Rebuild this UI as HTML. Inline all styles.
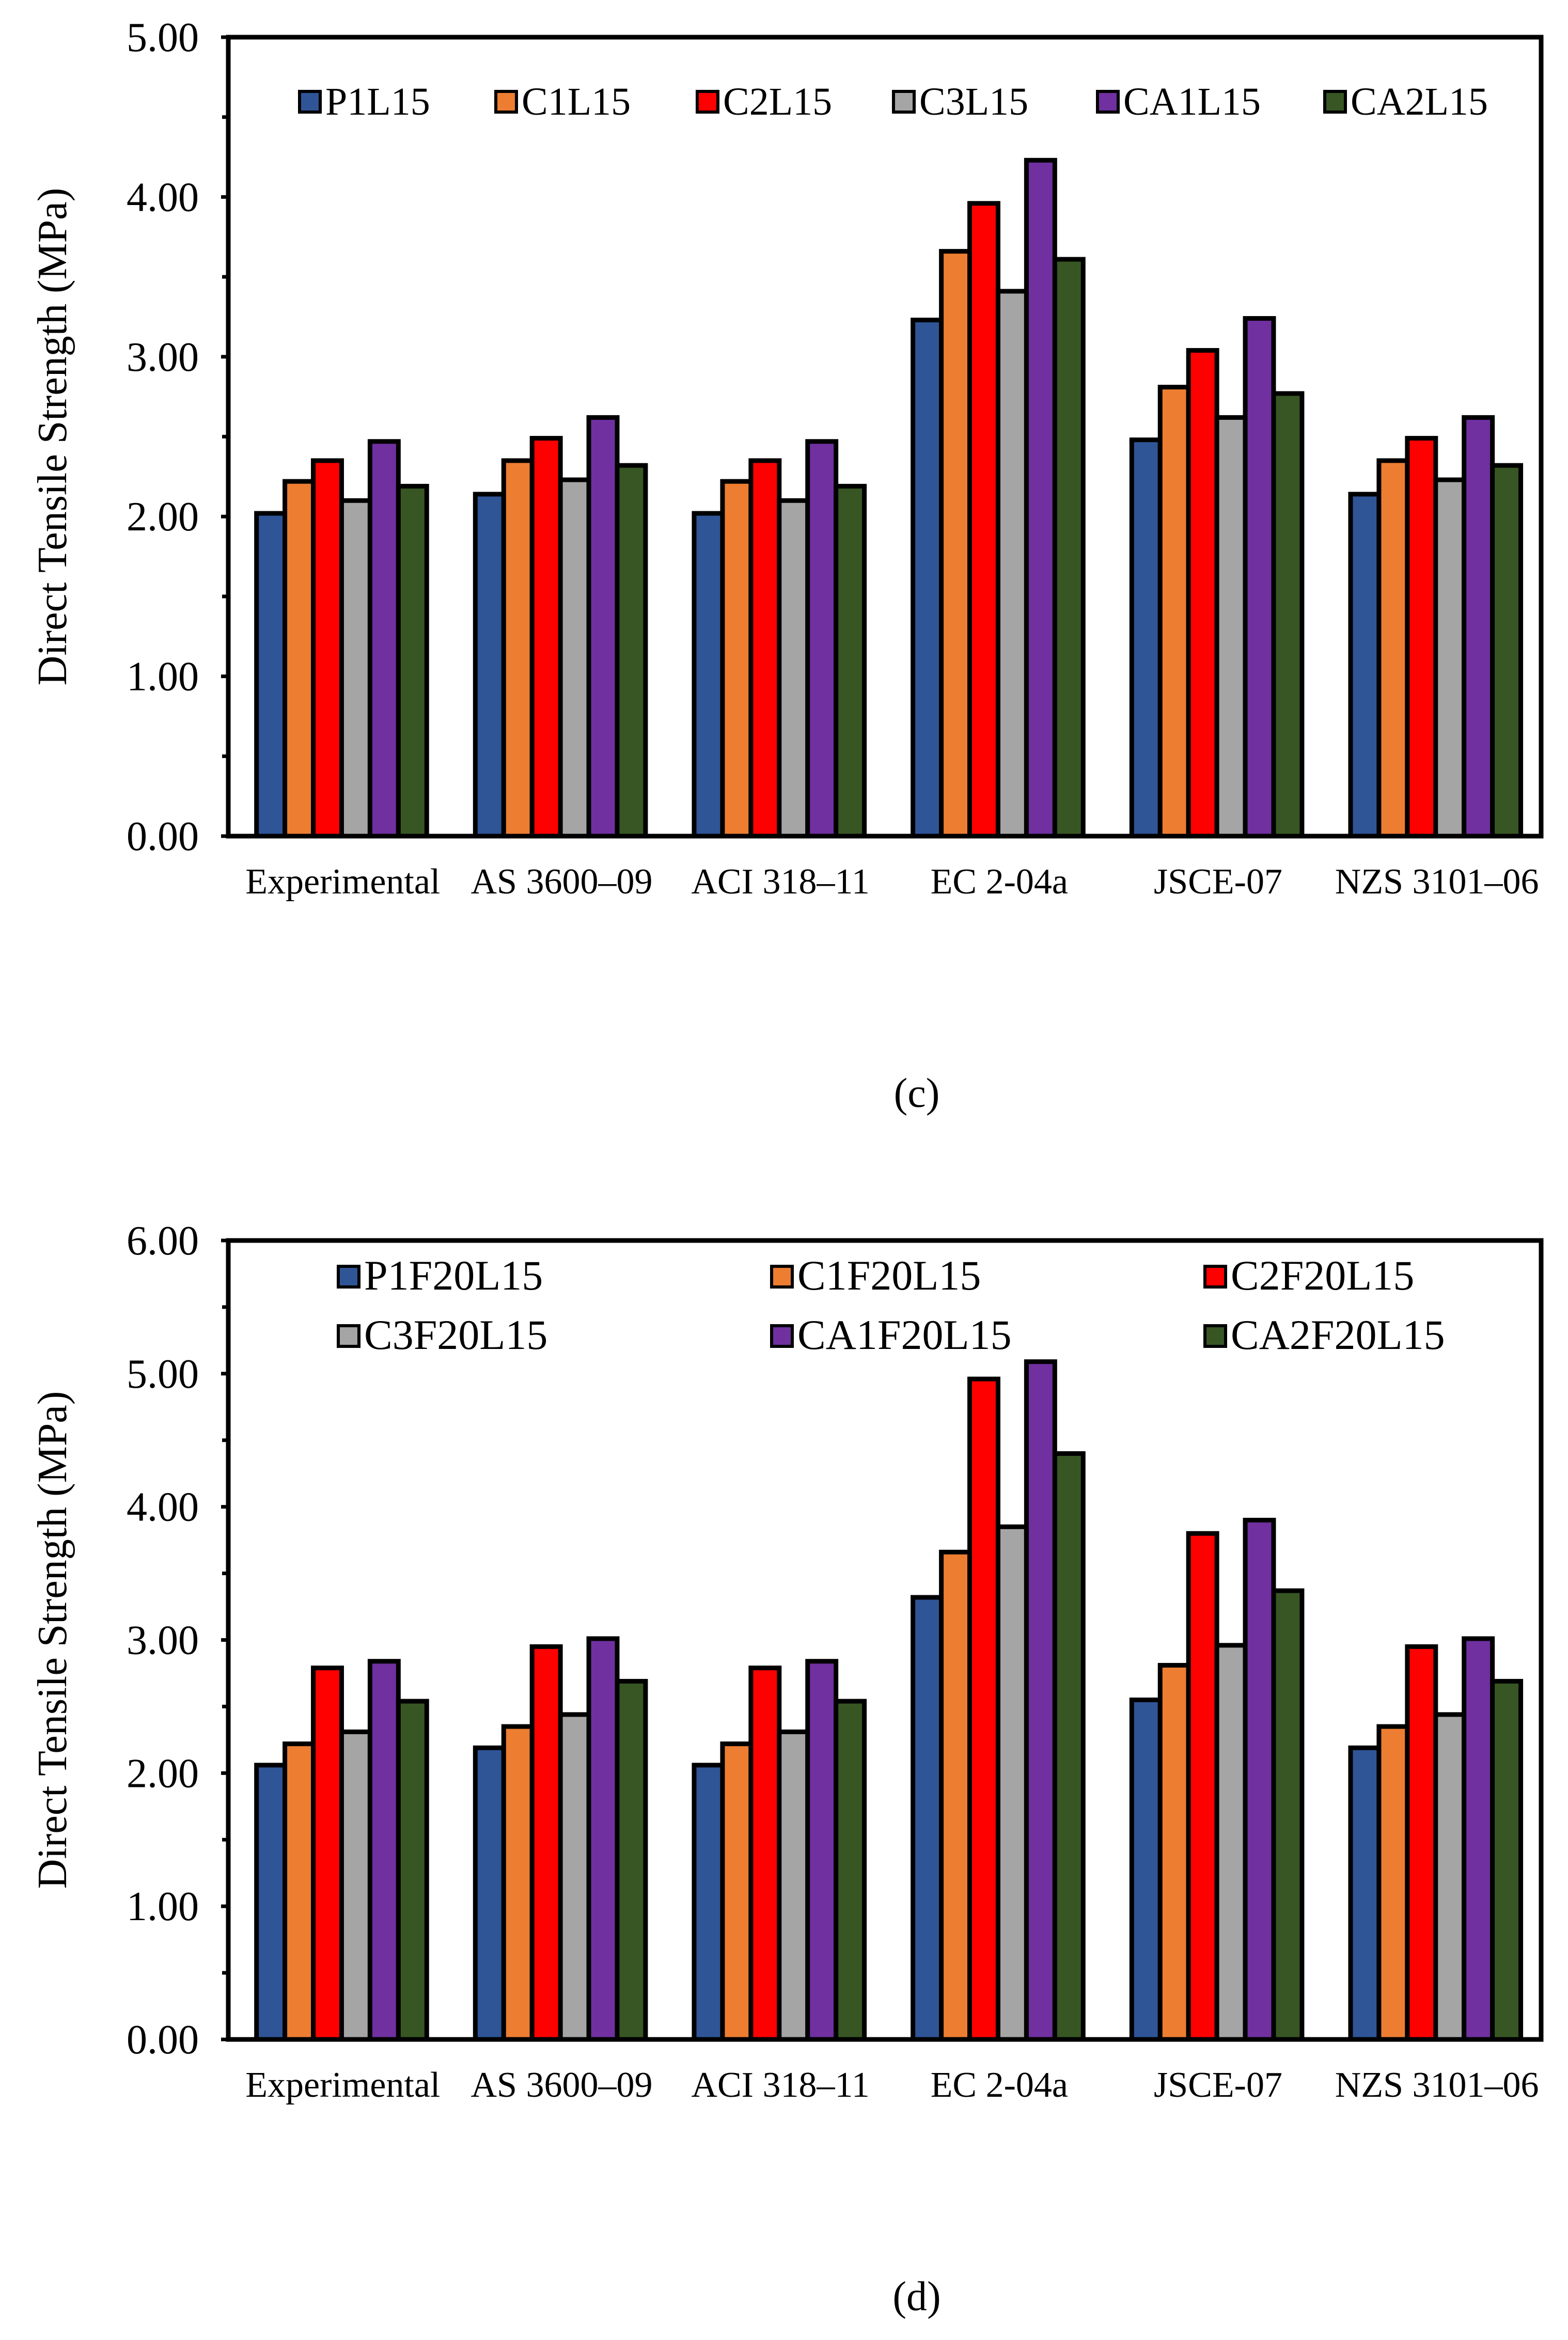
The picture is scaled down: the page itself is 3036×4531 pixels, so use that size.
<!DOCTYPE html>
<html><head><meta charset="utf-8"><style>
html,body{margin:0;padding:0;background:#fff}
svg{display:block;font-family:"Liberation Serif",serif}
</style></head><body>
<svg id="fig" width="3036" height="4531" viewBox="0 0 3036 4531" xmlns="http://www.w3.org/2000/svg"></svg>
<script>
const categories = ["Experimental","AS 3600\u201309","ACI 318\u201311","EC 2-04a","JSCE-07","NZS 3101\u201306"];
const colors = ["#2F5597","#ED7D31","#FF0000","#A5A5A5","#7030A0","#375623"];
const seriesC = ["P1L15","C1L15","C2L15","C3L15","CA1L15","CA2L15"];
const valsC_P1 = [2.02,2.14,2.02,3.23,2.48,2.14];
const valsC_C1 = [2.22,2.35,2.22,3.66,2.81,2.35];
const valsC_C2 = [2.35,2.49,2.35,3.96,3.04,2.49];
const valsC_C3 = [2.10,2.23,2.10,3.41,2.62,2.23];
const valsC_CA1 = [2.47,2.62,2.47,4.23,3.24,2.62];
const valsC_CA2 = [2.19,2.32,2.19,3.61,2.77,2.32];
const ticksC = ["0.00","1.00","2.00","3.00","4.00","5.00"];
const seriesD = ["P1F20L15","C1F20L15","C2F20L15","C3F20L15","CA1F20L15","CA2F20L15"];
const valsD_P1 = [2.06,2.19,2.06,3.32,2.55,2.19];
const valsD_C1 = [2.22,2.35,2.22,3.66,2.81,2.35];
const valsD_C2 = [2.79,2.95,2.79,4.96,3.80,2.95];
const valsD_C3 = [2.31,2.44,2.31,3.85,2.96,2.44];
const valsD_CA1 = [2.84,3.01,2.84,5.09,3.90,3.01];
const valsD_CA2 = [2.54,2.69,2.54,4.40,3.37,2.69];
const ticksD = ["0.00","1.00","2.00","3.00","4.00","5.00","6.00"];

const NS="http://www.w3.org/2000/svg";
const svg=document.getElementById('fig');
function mk(tag,attrs,parent,text){const e=document.createElementNS(NS,tag);for(const k in attrs)e.setAttribute(k,attrs[k]);if(text!==undefined)e.textContent=text;(parent||svg).appendChild(e);return e;}

function chart(cfg){
  const g=mk('g',{});
  
  
  const L=442,R=2984,T=cfg.top,B=cfg.bottom,ymax=cfg.ticks.length-1;
  const y=v=>B-(v/ymax)*(B-T);
  const gw=(R-L)/categories.length, bw=gw*0.778/6;
  const x=(ci,si)=>L+gw*ci+gw*0.111+bw*si+gw*0.018;
  cfg.series.forEach((s,si)=>{
    cfg.values[si].forEach((v,ci)=>{
      const r=mk('rect',{x:x(ci,si),y:y(v),width:bw,height:B-y(v),fill:colors[si],stroke:'#000','stroke-width':9},g);
      
      
    });
  });
  const f=mk('rect',{x:L,y:T,width:R-L,height:B-T,fill:'none',stroke:'#000','stroke-width':9},g);
  
  
  cfg.ticks.forEach((t,i)=>{
    const yy=y(i);
    mk('line',{x1:L-14,x2:L,y1:yy,y2:yy,stroke:'#000','stroke-width':7},g);
    if(i<ymax){const ym=y(i+0.5);mk('line',{x1:L-12,x2:L,y1:ym,y2:ym,stroke:'#000','stroke-width':7},g);}
    const tl=mk('text',{x:385,y:yy+27,'text-anchor':'end','font-size':80},g,t);
    
    
  });
  categories.forEach((c,ci)=>{
    const tl=mk('text',{x:L+gw*(ci+0.5)+10,y:cfg.catY,'text-anchor':'middle','font-size':70},g,c);
    
    
  });
  const yt=mk('text',{x:0,y:0,'text-anchor':'middle','font-size':80,transform:'translate(128,'+((T+B)/2)+') rotate(-90)'},g,'Direct Tensile Strength (MPa)');
  
  
  cfg.series.forEach((s,si)=>{
    const p=cfg.legendPos[si];
    const le=mk('g',{},g);
    
    
    mk('rect',{x:p[0],y:p[1]-20,width:40,height:40,fill:colors[si],stroke:'#000','stroke-width':6},le);
    mk('text',{x:p[0]+50,y:p[1]+25,'font-size':cfg.legendFont},le,s);
  });
  const cap=mk('text',{x:1775,y:cfg.capY,'text-anchor':'middle','font-size':80},g,cfg.caption);
  
  
}
chart({name:'chart-c',top:72,bottom:1619,ticks:ticksC,series:seriesC,
  values:[valsC_P1,valsC_C1,valsC_C2,valsC_C3,valsC_CA1,valsC_CA2],catY:1730,legendFont:76,
  legendPos:[[580,197],[960,197],[1350,197],[1730,197],[2125,197],[2565,197]],capY:2143,caption:'(c)'});
chart({name:'chart-d',top:2402,bottom:3949,ticks:ticksD,series:seriesD,
  values:[valsD_P1,valsD_C1,valsD_C2,valsD_C3,valsD_CA1,valsD_CA2],catY:4060,legendFont:82,
  legendPos:[[655,2472],[1494,2472],[2333,2472],[655,2587],[1494,2587],[2333,2587]],capY:4473,caption:'(d)'});
</script>
</body></html>
